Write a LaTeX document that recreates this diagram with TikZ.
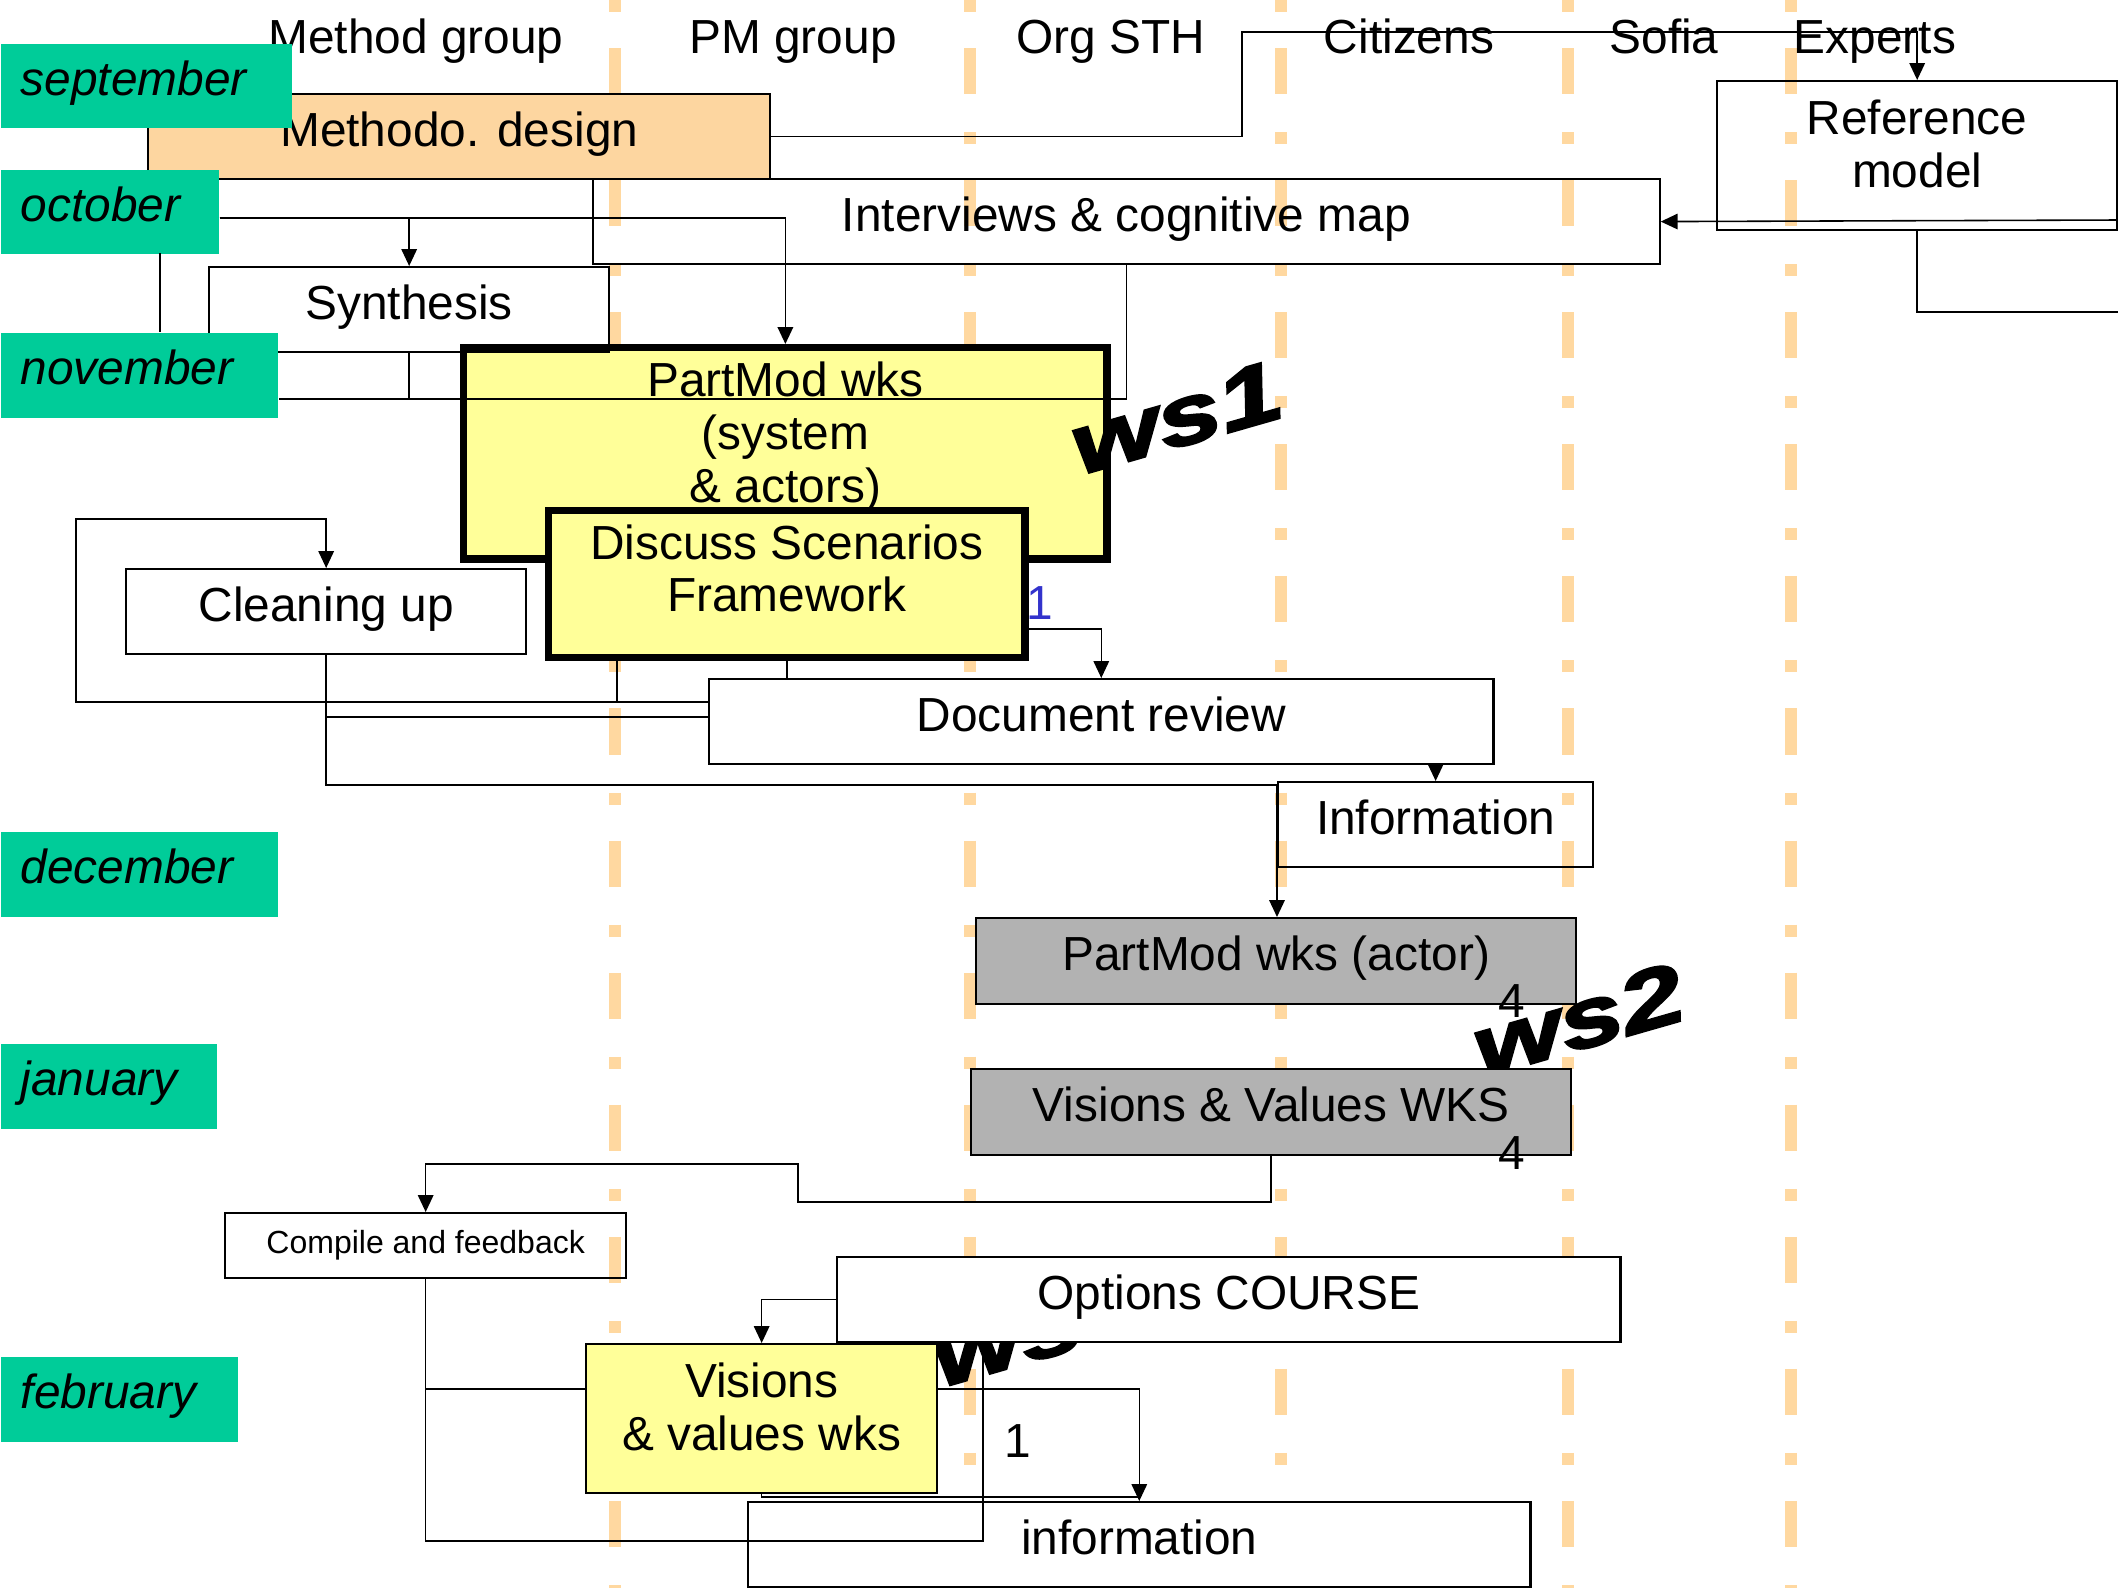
\documentclass[tikz,border=0pt]{standalone}
\usepackage{fontspec}
\setmainfont{Liberation Sans}
\newfontfamily\wsfont[BoldItalicFeatures={FakeBold=2.5}]{Liberation Sans}
\usepackage{graphicx}
\usetikzlibrary{arrows.meta}
\definecolor{monthgreen}{HTML}{00CC99}
\definecolor{lanedash}{HTML}{FFD8A0}
\definecolor{peach}{HTML}{FDD6A0}
\definecolor{wksyellow}{HTML}{FFFF99}
\definecolor{wksgrey}{HTML}{B2B2B2}
\definecolor{countblue}{HTML}{3333CC}
\newcommand{\mainsize}{\fontsize{13.6pt}{15pt}\selectfont}
\newcommand{\lift}[1]{\rule[-#1]{0pt}{0pt}}

\begin{document}
\begin{tikzpicture}[
  x=0.01cm, y=-0.01cm,
  txt/.style={font=\mainsize,inner sep=0pt},
  box/.style={draw,line width=.6pt,anchor=north west,inner sep=0pt,align=center,font=\mainsize,text height=.36cm,text depth=.17cm},
  mbox/.style={draw,line width=.6pt,anchor=north west,inner sep=0pt,align=center,font=\mainsize},
  thickbox/.style={mbox,line width=2.1pt,fill=wksyellow},
  month/.style={fill=monthgreen,anchor=north west,inner xsep=.2cm,inner ysep=0pt,align=left,font=\mainsize\itshape,text height=.36cm,text depth=.17cm},
  lane/.style={lanedash,line width=.12cm,dash pattern=on .46cm off .38cm on .12cm off .36cm},
  conn/.style={line width=.45pt},
  line/.style={conn,-{Triangle[length=4.8pt,width=4.4pt]}},
  wslabel/.style={font=\wsfont\bfseries\itshape\fontsize{24pt}{24pt}\selectfont,rotate=16,inner sep=0pt}
]
\useasboundingbox (0,0) rectangle (2118,1587);

% swimlanes
\foreach \lx in {615,970,1281,1568,1791}
  \draw[lane] (\lx,-84) -- (\lx,1600);

\node[txt,anchor=base] (hmethod) at (416,53) {Method group};
\node[txt,anchor=base] (hpm) at (793,53) {PM group};
\node[txt,anchor=base] (horg) at (1111,53) {Org STH};
\node[txt,anchor=base] (hcit) at (1409,53) {Citizens};
\node[txt,anchor=base] (hsofia) at (1664,53) {Sofia};
\node[txt,anchor=base] (hexp) at (1875,53) {Experts};

% activities
\node[box,fill=peach,minimum width=6.22cm,minimum height=.85cm] (meth) at (147,93) {Methodo. design};
\node[box,minimum width=10.66cm,minimum height=.85cm] (interv) at (592,178) {Interviews \& cognitive map};
\node[mbox,minimum width=4cm,minimum height=1.49cm] (refm) at (1716,80) {Reference\\model\lift{.24cm}};
\node[thickbox,minimum width=6.43cm,minimum height=2.11cm] (partmod) at (460,344) {PartMod wks\\(system\\\& actors)\lift{.42cm}};
\node[box,minimum width=4cm,minimum height=.85cm] (synth) at (208,266) {Synthesis};
\node[thickbox,minimum width=4.76cm,minimum height=1.47cm] (disc) at (545,507) {Discuss Scenarios\\Framework\lift{.32cm}};
\node[box,fill=white,minimum width=4cm,minimum height=.85cm] (clean) at (125,568) {Cleaning up};
\node[box,fill=white,minimum width=7.84cm,minimum height=.85cm] (docrev) at (708,678) {Document review};
\node[box,minimum width=3.15cm,minimum height=.85cm] (info) at (1277,781) {Information};
\node[box,fill=wksgrey,minimum width=6cm,minimum height=.86cm] (actor) at (975,917) {PartMod wks (actor)};
\node[wslabel] (ws2) at (1578,1020) {\scalebox{1.35}[1]{ws2}};
\node[box,fill=wksgrey,minimum width=6cm,minimum height=.86cm] (vvwks) at (970,1068) {Visions \& Values WKS};
\node[box,font=\fontsize{9.1pt}{10pt}\selectfont,text height=.24cm,text depth=.08cm,minimum width=4.01cm,minimum height=.65cm] (compile) at (224,1212) {Compile and feedback};
\node[wslabel] (ws3) at (1037,1330) {\scalebox{1.35}[1]{ws3}};
\node[box,fill=white,minimum width=7.83cm,minimum height=.85cm] (options) at (836,1256) {Options COURSE};
\node[mbox,fill=wksyellow,minimum width=3.51cm,minimum height=1.49cm] (vwks) at (585,1343) {Visions\\\& values wks\lift{.24cm}};
\node[box,fill=white,minimum width=7.82cm,minimum height=.85cm] (infob) at (747,1501) {information};
\node[wslabel] (ws1) at (1176,418) {\scalebox{1.35}[1]{ws1}};

% counts
\node[txt,text=countblue] (cnt1) at (1040,603) {1};
\node[txt] (cnt2) at (1512,1001) {4};
\node[txt] (cnt3) at (1512,1153) {4};
\node[txt] (cnt4) at (1018,1441) {1};

% months
\node[month,text width=2.51cm,minimum height=.84cm] (sep) at (0,43) {september};
\node[month,text width=1.78cm,minimum height=.84cm] (oct) at (0,169) {october};
\node[month,text width=2.37cm,minimum height=.85cm] (nov) at (0,332) {november};
\node[month,text width=2.37cm,minimum height=.85cm] (dec) at (0,831) {december};
\node[month,text width=1.76cm,minimum height=.85cm] (jan) at (0,1043) {january};
\node[month,text width=1.97cm,minimum height=.85cm] (feb) at (0,1356) {february};

% bends
\coordinate (methup) at (1242,32);
\coordinate (refout) at (2118,312);
\coordinate (refin) at (2118,220);
\coordinate (octleg) at (160,253);
\coordinate (discleg) at (617,658);
\coordinate (loopl) at (76,519);
\coordinate (infocorner) at (1277,785);
\coordinate (vvleft) at (798,1202);
\coordinate (vvup) at (798,1164);
\coordinate (cfright) at (983,1541);

% connectors
\draw[line] (meth.east) -| (methup) -| (refm.north);
\draw[conn] (refm.south) |- (refout);
\draw[line] (refin) -- (interv.east);
\draw[line] ([yshift=-.06cm]oct.east) -| (synth.north);
\draw[line] ([yshift=-.06cm]oct.east) -| (partmod.north);
\draw[conn] (octleg) -- (octleg |- nov.north);
\draw[conn] (interv.south) |- (nov.east |- 0,399);
\draw[conn] (synth.south) -- (synth.south |- 0,399);
\draw[line] (disc.east |- 0,629) -| (docrev.north);
\draw[conn] (disc.south) -- (disc.south |- docrev.north);
\draw[conn] (discleg) -- (discleg |- 0,702);
\draw[line] (docrev.west |- 0,702) -| (loopl) -| (clean.north);
\draw[conn] (clean.south) |- (docrev.west |- 0,717);
\draw[line] (clean.south) |- (infocorner) -- (infocorner |- actor.north);
\draw[line] (docrev.south -| info.north) -- (info.north);
\draw[line] (vvwks.south) |- (vvleft) -- (vvup) -| (compile.north);
\draw[conn] (compile.south) |- (cfright) -- (cfright |- options.south);
\draw[conn] (compile.south |- 0,1389) -- (vwks.west |- 0,1389);
\draw[line] (vwks.east |- 0,1389) -| (infob.north);
\draw[conn] (vwks.south) |- (infob.north |- 0,1497);
\draw[line] (options.west) -| (vwks.north);
\end{tikzpicture}
\end{document}
